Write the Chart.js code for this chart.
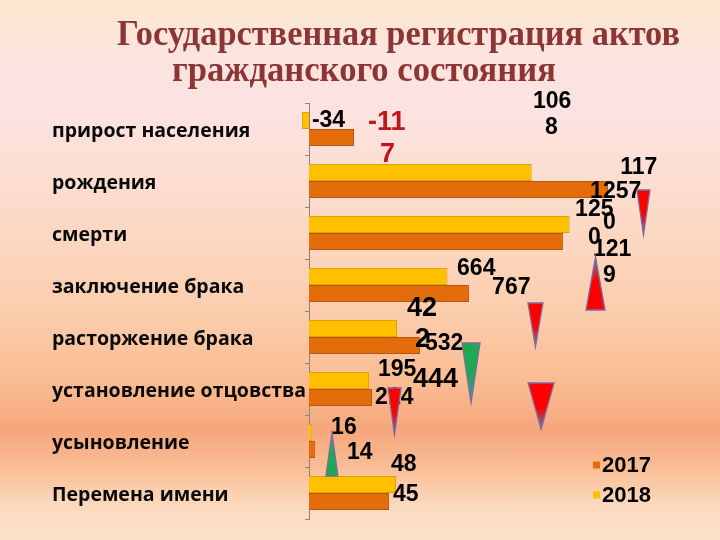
<!DOCTYPE html>
<html>
<head>
<meta charset="utf-8">
<script src="https://cdn.jsdelivr.net/npm/chart.js@4.4.1/dist/chart.umd.min.js"></script>
<style>
html,body{margin:0;padding:0;width:720px;height:540px;overflow:hidden;}
body{background:linear-gradient(to bottom,#fbe8cb 0px,#fde4de 45px,#fce3e2 110px,#fcdccb 200px,#fbcfb1 300px,#fabd93 380px,#f6a67b 430px,#f9bf98 470px,#fcd9bd 505px,#fde3cb 540px);}
#wrap{position:relative;width:720px;height:540px;}
canvas{display:block;}
</style>
</head>
<body>
<div id="wrap"><canvas id="c" width="720" height="540"></canvas></div>
<script>
// ---- data ----
const titleLines = ['Государственная регистрация актов', 'гражданского состояния'];
const categories = ['прирост населения', 'рождения', 'смерти', 'заключение брака', 'расторжение брака', 'установление отцовства', 'усыновление', 'Перемена имени'];
const seriesNames = ['2018', '2017'];
const values2018 = [-34, 1068, 1250, 664, 422, 288, 16, 417];
const values2017 = [216, 1434, 1219, 767, 532, 302, 30, 384];
const labelTexts = ['-34', '-11', '7', '106', '8', '117', '1257', '125', '0', '0', '121', '9', '664', '767', '42', '2', '532', '195', '444', '214', '16', '14', '48', '45'];

// ---- placement of the free-floating number labels (value units, category index units) ----
const labelPlacement = [
  [14, -0.154, 'n'], [283, -0.115, 'r'], [341, 0.5, 'r'], [1074, -0.519, 'n'], [1132, -0.019, 'n'],
  [1492, 0.75, 'n'], [1348, 1.212, 'n'], [1276, 1.558, 'n'], [1410, 1.808, 'n'], [1338, 2.096, 'n'],
  [1362, 2.327, 'n'], [1410, 2.827, 'n'], [710, 2.692, 'n'], [878, 3.058, 'n'], [470, 3.462, 'b'],
  [508, 4.058, 'b'], [556, 4.135, 'n'], [331, 4.635, 'n'], [499, 4.827, 'b'], [317, 5.173, 'n'],
  [106, 5.75, 'n'], [182, 6.231, 'n'], [393, 6.462, 'n'], [403, 7.038, 'n']
];
const arrowShapes = [
  {v: 1604, base: 1.173, tip: 2.038, hw: 6.5, color: '#ff0000'},
  {v: 1374, base: 3.481, tip: 2.462, hw: 9.5, color: '#ff0000'},
  {v: 1086, base: 3.346, tip: 4.192, hw: 7.5, color: '#ff0000'},
  {v: 777, base: 4.115, tip: 5.269, hw: 9, color: '#1fa854'},
  {v: 1113, base: 4.885, tip: 5.769, hw: 13, color: '#ff0000'},
  {v: 410, base: 4.981, tip: 5.885, hw: 6.5, color: '#ff0000'},
  {v: 110, base: 6.673, tip: 5.846, hw: 6, color: '#1fa854'}
];

const decorPlugin = {
  id: 'decor',
  afterDatasetsDraw(chart) {
    const {ctx, scales: {x, y}} = chart;
    ctx.save();
    ctx.textAlign = 'left';
    ctx.textBaseline = 'middle';
    labelTexts.forEach((t, i) => {
      const [v, idx, kind] = labelPlacement[i];
      if (kind === 'r') { ctx.font = 'bold 27px "Liberation Sans", Arial, sans-serif'; ctx.fillStyle = '#c3151c'; }
      else if (kind === 'b') { ctx.font = 'bold 27px "Liberation Sans", Arial, sans-serif'; ctx.fillStyle = '#000'; }
      else { ctx.font = 'bold 23px "Liberation Sans", Arial, sans-serif'; ctx.fillStyle = '#000'; }
      ctx.fillText(t, x.getPixelForValue(v), y.getPixelForValue(idx));
    });
    arrowShapes.forEach(a => {
      const cx = x.getPixelForValue(a.v);
      const yb = y.getPixelForValue(a.base);
      const yt = y.getPixelForValue(a.tip);
      const g = ctx.createLinearGradient(0, yb, 0, yt);
      g.addColorStop(0, a.color);
      g.addColorStop(0.55, a.color);
      g.addColorStop(1, '#5b84b8');
      ctx.beginPath();
      ctx.moveTo(cx - a.hw, yb);
      ctx.lineTo(cx + a.hw, yb);
      ctx.lineTo(cx, yt);
      ctx.closePath();
      ctx.fillStyle = g;
      ctx.fill();
      ctx.strokeStyle = '#7c6c9e';
      ctx.lineWidth = 1.3;
      ctx.stroke();
    });
    ctx.restore();
  },
  afterDraw(chart) {
    const {ctx} = chart;
    ctx.save();
    // title
    ctx.fillStyle = '#8b3535';
    ctx.textAlign = 'left';
    ctx.textBaseline = 'alphabetic';
    ctx.font = 'bold 36px "Liberation Serif", "DejaVu Serif", serif';
    const fits = [[titleLines[0], 117, 45, 563], [titleLines[1], 172, 81, 384]];
    fits.forEach(([t, x0, yb, w]) => {
      const m = ctx.measureText(t).width;
      ctx.save();
      ctx.translate(x0, yb);
      ctx.scale(w / m, 1);
      ctx.fillText(t, 0, 0);
      ctx.restore();
    });
    // legend (2017 first, then 2018)
    const ds = chart.data.datasets.slice().reverse();
    ctx.font = 'bold 22px "Liberation Sans", Arial, sans-serif';
    ctx.textBaseline = 'middle';
    ds.forEach((d, i) => {
      const cy = 465 + i * 30;
      ctx.fillStyle = d.backgroundColor;
      ctx.fillRect(593, cy - 3.5, 7, 7);
      ctx.fillStyle = '#000';
      ctx.fillText(d.label, 602, cy + 1);
    });
    ctx.restore();
  }
};

new Chart(document.getElementById('c'), {
  type: 'bar',
  data: {
    labels: categories,
    datasets: [
      {label: seriesNames[0], data: values2018, backgroundColor: '#ffc000', borderColor: '#d9a300', borderWidth: 1},
      {label: seriesNames[1], data: values2017, backgroundColor: '#e46c0a', borderColor: '#b5570f', borderWidth: 1}
    ]
  },
  options: {
    indexAxis: 'y',
    responsive: false,
    animation: false,
    devicePixelRatio: 1,
    layout: {padding: {left: 52, right: 20, top: 103, bottom: 21}},
    datasets: {bar: {categoryPercentage: 0.654, barPercentage: 1, clip: false}},
    plugins: {legend: {display: false}, tooltip: {enabled: false}, title: {display: false}},
    scales: {
      x: {display: false, min: 0, max: 1875},
      y: {
        afterFit(scale) { scale.width = 257; },
        border: {display: true, color: '#858585', width: 1},
        grid: {drawOnChartArea: false, drawTicks: true, tickLength: 4, color: '#858585', offset: true},
        ticks: {crossAlign: 'far', color: '#0a0a0a', padding: 4, labelOffset: 2, font: {family: '"Open Sans", sans-serif', weight: '700', size: 19.5}}
      }
    }
  },
  plugins: [decorPlugin]
});
</script>
</body>
</html>
